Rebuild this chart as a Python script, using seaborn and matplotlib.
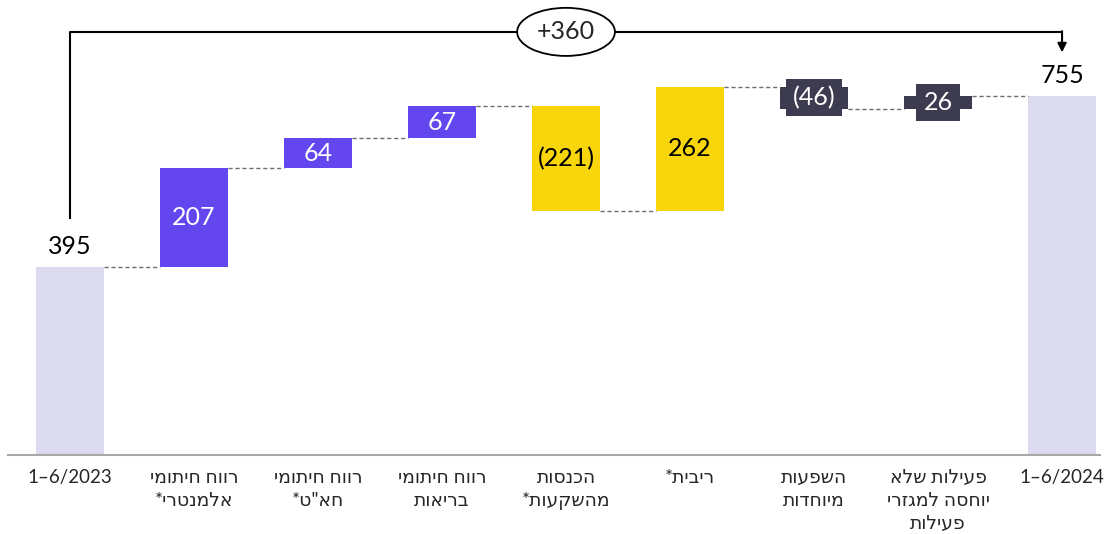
import matplotlib
matplotlib.use("Agg")
import matplotlib.pyplot as plt
import seaborn as sns
import pandas as pd

# data
categories = ['1–6/2023', 'רווח חיתומי\nאלמנטרי*', 'רווח חיתומי\nחא"ט*', 'רווח חיתומי\nבריאות',
              'הכנסות\nמהשקעות*', 'ריבית*', 'השפעות\nמיוחדות', 'פעילות שלא\nיוחסה למגזרי\nפעילות',
              '1–6/2024']
changes = [395, 207, 64, 67, -221, 262, -46, 26, 755]
value_labels = ['395', '207', '64', '67', '(221)', '262', '(46)', '26', '755']
kinds = ['total', 'seg', 'seg', 'seg', 'fin', 'fin', 'other', 'other', 'total']
total_change = '+360'

palette = {'total': '#dcdaee', 'seg': '#6446ef', 'fin': '#f9d50b', 'other': '#3c3b4f'}
label_color = {'total': 'black', 'seg': 'white', 'fin': 'black', 'other': 'white'}


def rtl(s):
    # matplotlib has no bidi support, so Hebrew lines are reversed for display
    out = []
    for line in s.split('\n'):
        if any('\u0590' <= c <= '\u05ff' for c in line):
            line = line[::-1]
        out.append(line)
    return '\n'.join(out)


# waterfall geometry
bottoms, heights, levels = [], [], []
run = 0
for k, v in zip(kinds, changes):
    if k == 'total':
        bottoms.append(0)
        heights.append(v)
        run = v
    else:
        bottoms.append(min(run, run + v))
        heights.append(abs(v))
        run = run + v
    levels.append(run)

df = pd.DataFrame({'step': categories, 'height': heights, 'bottom': bottoms})

sns.set_style('white')
plt.rcParams['font.family'] = ['Lato', 'DejaVu Sans']

fig = plt.figure(figsize=(11.09, 5.34), dpi=100)
ax = fig.add_axes([8 / 1109, 79 / 534, 1092 / 1109, 455 / 534])

sns.barplot(data=df, x='step', y='height', order=categories, bottom=df['bottom'].values,
            width=0.55, color=palette['total'], linewidth=0, ax=ax)
for patch, k in zip(ax.patches, kinds):
    patch.set_facecolor(palette[k])
    patch.set_edgecolor('none')

ax.set_xlim(-0.5, 8.306)
ax.set_ylim(0, 956)

# dashed connectors
hw = 0.275
for i in range(len(categories) - 1):
    ax.hlines(levels[i], i + hw, i + 1 - hw, colors='#6e6e6e', linestyles=(0, (3, 2)), lw=1)

# value labels
for i, (k, lab) in enumerate(zip(kinds, value_labels)):
    if k == 'total':
        ax.text(i, bottoms[i] + heights[i] + 18, lab, ha='center', va='bottom',
                fontsize=18, color='black')
    elif k == 'other':
        ax.text(i, bottoms[i] + heights[i] / 2, lab, ha='center', va='center',
                fontsize=18, color='white',
                bbox=dict(boxstyle='square,pad=0.28', fc=palette['other'], ec='none'))
    else:
        ax.text(i, bottoms[i] + heights[i] / 2, lab, ha='center', va='center',
                fontsize=18, color=label_color[k])

# overall change bracket
top = 889
ax.plot([0, 0, len(categories) - 1], [changes[0] + 100, top, top], color='black', lw=1.5,
        clip_on=False, solid_capstyle='butt')
ax.annotate('', xy=(len(categories) - 1, 846), xytext=(len(categories) - 1, top + 1.5),
            arrowprops=dict(arrowstyle='-|>', color='black', lw=1.5, mutation_scale=13,
                            shrinkA=0, shrinkB=0))
ax.text((len(categories) - 1) / 2, top, total_change, ha='center', va='center', fontsize=18,
        bbox=dict(boxstyle='ellipse,pad=0.22', fc='white', ec='black', lw=1.3))

ax.set_xticks(range(len(categories)))
ax.set_xticklabels([rtl(c) for c in categories], fontsize=13.5, linespacing=1.42,
                   multialignment='center')
ax.tick_params(axis='x', length=0, pad=10)
ax.set_yticks([])
ax.set_xlabel('')
ax.set_ylabel('')
for s in ['top', 'right', 'left']:
    ax.spines[s].set_visible(False)
ax.spines['bottom'].set_color('#a8a8a8')
ax.spines['bottom'].set_linewidth(1.5)

fig.savefig('out.png', dpi=100)
